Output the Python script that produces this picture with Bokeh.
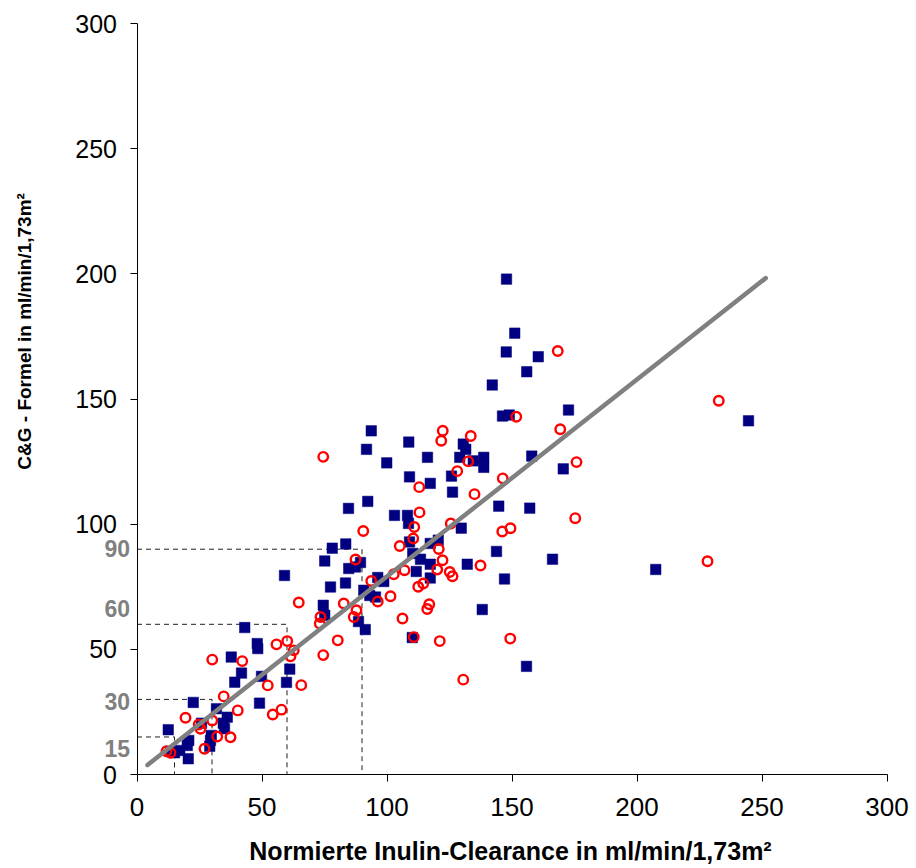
from bokeh.plotting import figure
from bokeh.models import Range1d, Label, FixedTicker
from bokeh.embed import file_html
from bokeh.resources import INLINE
import math

# ---- data ----
blue_x = [147.8, 151.1, 147.7, 160.5, 155.9, 142.1,
          244.6, 207.5,
          146.2, 148.9, 172.6, 93.7, 91.8, 108.7, 99.9, 116.2, 130.5, 131.5,
          129.1, 134.5, 138.7, 138.7, 157.9, 170.5, 109.0, 117.3, 125.8, 126.2,
          84.6, 92.3, 144.7, 157.1, 103.0, 108.2, 108.6, 129.7, 109.0, 117.3,
          120.5, 78.1, 83.5, 110.3, 113.4, 143.8, 75.1, 84.7, 87.4, 89.4,
          117.3, 111.7, 132.1, 166.2, 59.0, 96.3, 98.7, 117.3, 147.0, 77.4,
          83.4, 90.7, 93.1, 95.4, 74.5, 75.1, 88.6, 91.3, 138.1, 110.1,
          155.8, 61.1, 59.8,
          43.1, 48.1, 48.3, 37.7, 41.8, 39.1, 49.8, 49.0, 22.5, 31.8, 36.1,
          34.5, 35.0, 25.8, 12.5, 29.7, 29.4, 20.7, 20.1, 29.1, 17.1, 15.0,
          13.4, 20.5]
blue_y = [197.9, 176.3, 168.8, 166.9, 160.9, 155.6,
          141.3, 81.9,
          143.2, 143.6, 145.6, 137.3, 129.9, 132.8, 124.5, 126.7, 132.0, 129.9,
          126.7, 125.3, 126.7, 122.7, 127.2, 122.1, 118.9, 116.3, 119.2, 112.8,
          106.3, 109.1, 107.2, 106.4, 103.5, 103.5, 100.3, 98.4, 92.9, 92.3,
          93.6, 90.4, 92.1, 88.3, 86.0, 89.1, 85.3, 82.3, 82.9, 84.7,
          84.0, 81.1, 84.0, 86.0, 79.5, 78.7, 77.1, 78.5, 78.1, 74.9,
          76.5, 73.6, 71.5, 70.9, 67.6, 63.6, 61.1, 57.9, 65.9, 54.7,
          43.2, 42.1, 36.8,
          58.7, 52.3, 50.3, 46.9, 40.5, 36.9, 39.2, 28.5, 28.8, 26.3, 22.9,
          20.5, 18.3, 20.5, 17.9, 15.6, 13.6, 13.6, 11.6, 11.3, 9.6, 8.7,
          9.2, 6.3]

red_x = [168.3, 232.7, 228.2,
         151.7, 122.3, 121.7, 133.5, 74.5, 128.1, 132.5, 169.3, 175.8, 146.3,
         112.9, 135.0, 113.0, 110.9, 110.5, 125.5, 90.5, 146.1, 149.4, 175.3,
         105.1, 120.7, 122.2, 87.4, 137.4, 107.0, 102.7, 120.1, 125.1, 126.2,
         93.7, 112.5, 114.5, 64.7, 82.7, 96.3, 101.4, 87.8, 86.7, 73.4,
         73.1, 116.9, 116.1, 106.2, 110.7, 121.1, 149.3, 80.3, 74.5, 60.1,
         62.7, 61.4, 65.7, 130.5,
         55.8, 30.1, 42.1, 52.3, 34.7, 40.3, 54.3, 57.8, 19.4, 24.7, 25.4,
         30.1, 32.1, 37.4, 27.0, 11.8, 13.4]
red_y = [169.2, 149.3, 85.2,
         142.9, 137.3, 133.3, 135.2, 126.9, 121.2, 125.1, 137.9, 124.8, 118.3,
         114.8, 112.0, 104.7, 98.9, 94.3, 100.3, 97.3, 97.1, 98.4, 102.4,
         91.3, 90.1, 85.6, 85.9, 83.5, 81.6, 80.0, 81.9, 80.9, 79.2,
         77.3, 75.0, 76.3, 68.7, 68.3, 69.1, 71.2, 65.6, 62.9, 62.9,
         60.3, 68.0, 66.1, 62.3, 54.9, 53.3, 54.3, 53.6, 47.7, 53.3,
         49.6, 47.2, 35.7, 37.9,
         52.0, 45.9, 45.3, 35.6, 31.2, 25.6, 24.0, 25.9, 22.7, 20.0, 18.3,
         21.6, 15.2, 14.9, 10.3, 9.3, 8.7]

reg_x = [4.2, 251.5]
reg_y = [3.8, 198.3]

guide_vals = [15, 30, 60, 90]
guide_texts = ["15", "30", "60", "90"]
guide_text_y = [10.2, 29.2, 66.4, 90.4]

x_ticks = [0, 50, 100, 150, 200, 250, 300]
y_ticks = [0, 50, 100, 150, 200, 250, 300]

x_title = "Normierte Inulin-Clearance in ml/min/1,73m²"
y_title = "C&G - Formel in ml/min/1,73m²"

# ---- figure: the frame fills the canvas, axes sit at x=0 / y=0 ----
p = figure(width=916, height=868, output_backend="svg", toolbar_location=None,
           x_range=Range1d(-54.6, 311.8), y_range=Range1d(-37.55, 309.2),
           min_border=0)
p.min_border_left = 0
p.min_border_right = 0
p.min_border_top = 0
p.min_border_bottom = 0
p.outline_line_color = None
p.xgrid.visible = False
p.ygrid.visible = False
p.background_fill_color = "white"
p.border_fill_color = "white"

p.xaxis.ticker = FixedTicker(ticks=x_ticks)
p.yaxis.ticker = FixedTicker(ticks=y_ticks)
for ax in (p.xaxis, p.yaxis):
    ax.fixed_location = 0
    ax.bounds = (0, 300)
    ax.axis_line_color = "black"
    ax.axis_line_width = 1
    ax.major_tick_line_color = "black"
    ax.major_tick_out = 7
    ax.major_tick_in = 0
    ax.minor_tick_line_color = None
    ax.major_label_text_color = "black"
p.yaxis.major_label_text_font = "Liberation Sans"
p.yaxis.major_label_text_font_size = "25px"
p.yaxis.major_label_standoff = 13
p.xaxis.major_label_text_font = "Liberation Sans"
p.xaxis.major_label_text_font_size = "26px"
p.xaxis.major_label_standoff = 16

# dashed guide lines
gxs = []
gys = []
for v in guide_vals:
    gxs.append([0, v, v])
    gys.append([v, v, 0])
p.multi_line(gxs, gys, line_color="#202020", line_width=1, line_dash="5 4")

# points
p.scatter(blue_x, blue_y, marker="square", size=10.5,
          fill_color="#000080", line_color="#000080", line_width=0.5)
p.scatter(red_x, red_y, marker="circle", size=9.5,
          fill_color=None, line_color="#FF0000", line_width=2.4)

# regression line
p.line(reg_x, reg_y, line_color="#808080", line_width=4.5, line_cap="round")

# gray guide labels
for t, yy in zip(guide_texts, guide_text_y):
    p.add_layout(Label(x=-2.8, y=yy, text=t, text_align="right",
                       text_baseline="middle", text_color="#808080",
                       text_font="Liberation Sans", text_font_style="bold",
                       text_font_size="23px"))

# axis titles
p.add_layout(Label(x=149.4, y=-30.6, text=x_title, text_align="center",
                   text_baseline="middle", text_color="black",
                   text_font="Liberation Sans", text_font_style="bold",
                   text_font_size="25px"))
p.add_layout(Label(x=-45, y=177.0, text=y_title, text_align="center",
                   text_baseline="middle", angle=math.pi / 2, text_color="black",
                   text_font="Liberation Sans", text_font_style="bold",
                   text_font_size="19px"))

open("out.html", "w").write(file_html(p, INLINE))
